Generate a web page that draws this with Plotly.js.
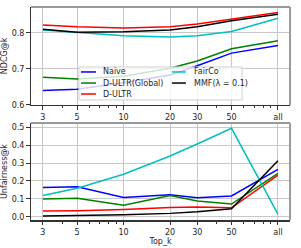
<!DOCTYPE html>
<html>
<head>
<meta charset="utf-8">
<script src="https://cdn.plot.ly/plotly-3.0.1.min.js"></script>
<style>html,body{margin:0;padding:0;background:#fff;}#chart{width:301px;height:248px;}</style>
</head>
<body>
<div id="chart"></div>
<script>
// ---- data ----
const kValues = [3, 5, 10, 20, 30, 50, 100];
const tickLabels = ['3', '5', '10', '20', '30', '50', 'all'];
const seriesNames = ['Naive', 'D-ULTR(Global)', 'D-ULTR', 'FairCo', 'MMF(\u03bb = 0.1)'];
const seriesColors = ['#0000ff', '#008000', '#ff0000', '#00bfbf', '#000000'];

const ndcgNaive  = [0.640, 0.644, 0.662, 0.683, 0.709, 0.744, 0.765];
const ndcgGlobal = [0.677, 0.672, 0.680, 0.702, 0.722, 0.756, 0.778];
const ndcgDULTR  = [0.822, 0.817, 0.814, 0.817, 0.825, 0.839, 0.857];
const ndcgFairCo = [0.808, 0.801, 0.792, 0.789, 0.792, 0.804, 0.841];
const ndcgMMF    = [0.810, 0.802, 0.803, 0.808, 0.817, 0.834, 0.852];

const unfNaive  = [0.164, 0.168, 0.108, 0.123, 0.106, 0.116, 0.265];
const unfGlobal = [0.099, 0.103, 0.064, 0.119, 0.088, 0.071, 0.242];
const unfDULTR  = [0.032, 0.034, 0.041, 0.052, 0.054, 0.050, 0.233];
const unfFairCo = [0.119, 0.159, 0.237, 0.339, 0.406, 0.494, 0.015];
const unfMMF    = [0.004, 0.006, 0.011, 0.019, 0.028, 0.045, 0.313];

const ndcgSeries = [ndcgNaive, ndcgGlobal, ndcgDULTR, ndcgFairCo, ndcgMMF];
const unfSeries  = [unfNaive, unfGlobal, unfDULTR, unfFairCo, unfMMF];

// ---- traces ----
const traces = [];
ndcgSeries.forEach((ys, i) => traces.push({
  x: kValues, y: ys, xaxis: 'x', yaxis: 'y', mode: 'lines', name: seriesNames[i],
  line: {color: seriesColors[i], width: 1.5}, showlegend: false, hoverinfo: 'skip'
}));
unfSeries.forEach((ys, i) => traces.push({
  x: kValues, y: ys, xaxis: 'x2', yaxis: 'y2', mode: 'lines', name: seriesNames[i],
  line: {color: seriesColors[i], width: 1.5}, showlegend: false, hoverinfo: 'skip'
}));

const FONT = {family: 'DejaVu Sans', size: 8, color: '#262626'};
const minorVals = [4, 6, 7, 8, 9, 40, 60, 70, 80, 90];
function xAxis(anchor) {
  return {
    type: 'log', range: [0.400, 2.078], anchor: anchor,
    tickmode: 'array', tickvals: kValues, ticktext: tickLabels,
    ticks: 'outside', ticklen: 3.5, tickwidth: 1, tickcolor: '#333',
    showgrid: true, gridcolor: '#c8c8c8', gridwidth: 1,
    showline: true, linecolor: '#333', linewidth: 1.5, zeroline: false,
    tickfont: FONT,
    minor: {tickvals: minorVals, ticks: 'outside', ticklen: 2, tickcolor: '#333', showgrid: false}
  };
}
function yAxis(anchor, domain, range, tickvals, ticktext) {
  return {
    domain: domain, range: range, anchor: anchor,
    tickmode: 'array', tickvals: tickvals, ticktext: ticktext,
    ticks: 'outside', ticklen: 3.5, tickwidth: 1, tickcolor: '#333',
    showgrid: true, gridcolor: '#c8c8c8', gridwidth: 1,
    showline: true, linecolor: '#333', linewidth: 1.5, zeroline: false,
    tickfont: FONT
  };
}

const layout = {
  width: 301, height: 248,
  margin: {l: 31, r: 11, t: 7, b: 28},
  paper_bgcolor: '#fff', plot_bgcolor: '#fff',
  font: FONT, showlegend: false,
  xaxis: Object.assign(xAxis('y'), {}),
  yaxis: Object.assign(yAxis('x', [0.540, 1], [0.6, 0.872], [0.6, 0.7, 0.8], ['0.6', '0.7', '0.8']),
    {title: {text: 'NDCG@k', font: FONT, standoff: 4}}),
  xaxis2: Object.assign(xAxis('y2'), {title: {text: 'Top_k', font: FONT, standoff: 2}}),
  yaxis2: Object.assign(yAxis('x2', [0, 0.455], [-0.018, 0.523],
    [0, 0.1, 0.2, 0.3, 0.4, 0.5], ['0.0', '0.1', '0.2', '0.3', '0.4', '0.5']),
    {title: {text: 'Unfairness@k', font: FONT, standoff: 4}}),
  shapes: [], annotations: []
};

// grey top/right frame lines for both panels
[['x domain', 'y domain'], ['x2 domain', 'y2 domain']].forEach(([xr, yr]) => {
  layout.shapes.push({type: 'line', xref: xr, yref: yr, x0: 0, x1: 1, y0: 1, y1: 1, line: {color: '#9a9a9a', width: 2}});
  layout.shapes.push({type: 'line', xref: xr, yref: yr, x0: 1, x1: 1, y0: 0, y1: 1, line: {color: '#9a9a9a', width: 2}});
});

// legend (drawn in top panel, two columns)
const legBox = {x0: 0.185, x1: 0.815, y0: 0.051, y1: 0.388};
layout.shapes.push({type: 'rect', xref: 'x domain', yref: 'y domain', x0: legBox.x0, x1: legBox.x1,
  y0: legBox.y0, y1: legBox.y1, fillcolor: 'rgba(255,255,255,0.8)', line: {color: '#d0d0d0', width: 1}});
const legRows = [0.337, 0.224, 0.112];
const legCols = [{s0: 0.193, s1: 0.251, t: 0.272}, {s0: 0.544, s1: 0.598, t: 0.623}];
seriesNames.forEach((name, i) => {
  const col = legCols[Math.floor(i / 3)];
  const yy = legRows[i % 3];
  layout.shapes.push({type: 'line', xref: 'x domain', yref: 'y domain', x0: col.s0, x1: col.s1,
    y0: yy, y1: yy, line: {color: seriesColors[i], width: 1.5}});
  layout.annotations.push({xref: 'x domain', yref: 'y domain', x: col.t, y: yy, text: name,
    showarrow: false, xanchor: 'left', yanchor: 'middle', font: FONT});
});

Plotly.newPlot('chart', traces, layout, {staticPlot: true, displayModeBar: false});
</script>
</body>
</html>
